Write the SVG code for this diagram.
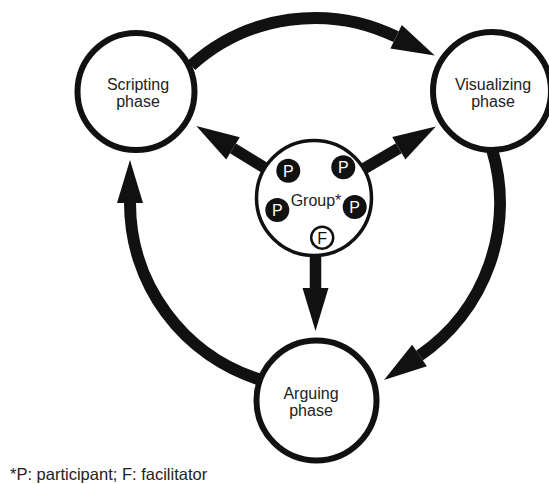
<svg xmlns="http://www.w3.org/2000/svg" width="549" height="484" viewBox="0 0 549 484">
<style>
.lbl{font-family:"Liberation Sans",Arial,sans-serif;font-size:16px;fill:#222;text-anchor:middle}
.phase{fill:#fff;stroke:#111;stroke-width:6}
.arc{fill:none;stroke:#111;stroke-width:12}
.ray{fill:none;stroke:#111;stroke-width:11.5}
.p{fill:#111}
.pt{font-family:"Liberation Sans",Arial,sans-serif;font-size:16px;fill:#fff;text-anchor:middle}
</style>
<defs>
<marker id="ah" markerUnits="userSpaceOnUse" markerWidth="44" markerHeight="28" viewBox="0 -13 44 26" refX="0" refY="0" orient="auto" overflow="visible">
<path d="M0,-13 L43,0 L0,13 Z" fill="#111"/>
</marker>
</defs>
<rect width="549" height="484" fill="#fff"/>
<g id="connectors">
<path class="arc" d="M191.2,65.5 A185,185 0 0 1 396.1,36.7" marker-end="url(#ah)"/>
<path class="arc" d="M491.9,148.9 A185,185 0 0 1 419.5,355.6" marker-end="url(#ah)"/>
<path class="arc" d="M260.9,379.9 A185,185 0 0 1 130,203" marker-end="url(#ah)"/>
<line class="ray" x1="314" y1="198" x2="233" y2="148.4" marker-end="url(#ah)"/>
<line class="ray" x1="314" y1="198" x2="398.8" y2="148.3" marker-end="url(#ah)"/>
<line class="ray" x1="315.5" y1="198" x2="315.5" y2="288" marker-end="url(#ah)"/>
</g>
<g id="scripting">
<circle class="phase" cx="136" cy="91.5" r="58.5"/>
<text class="lbl" x="138" y="90">Scripting</text>
<text class="lbl" x="138" y="107">phase</text>
</g>
<g id="visualizing">
<circle class="phase" cx="492" cy="91" r="59"/>
<text class="lbl" x="493" y="90">Visualizing</text>
<text class="lbl" x="493" y="107">phase</text>
</g>
<g id="arguing">
<circle class="phase" cx="316.5" cy="400.5" r="60"/>
<text class="lbl" x="311" y="399">Arguing</text>
<text class="lbl" x="311" y="416">phase</text>
</g>
<g id="group">
<circle cx="314" cy="198" r="57.5" fill="#fff" stroke="#111" stroke-width="3.5"/>
<text class="lbl" x="316" y="206">Group*</text>
<circle class="p" cx="288.3" cy="170.7" r="12"/>
<text class="pt" x="288.3" y="176.5">P</text>
<circle class="p" cx="343.3" cy="167.3" r="12"/>
<text class="pt" x="343.3" y="173">P</text>
<circle class="p" cx="277.3" cy="210" r="12"/>
<text class="pt" x="277.3" y="215.8">P</text>
<circle class="p" cx="354.7" cy="207" r="12"/>
<text class="pt" x="354.7" y="212.8">P</text>
<circle cx="322.2" cy="237.7" r="11" fill="#fff" stroke="#111" stroke-width="2.5"/>
<text class="lbl" x="322.2" y="243.5" style="fill:#111">F</text>
</g>
<text class="lbl" x="10" y="480" style="text-anchor:start;font-size:16.5px">*P: participant; F: facilitator</text>
</svg>
